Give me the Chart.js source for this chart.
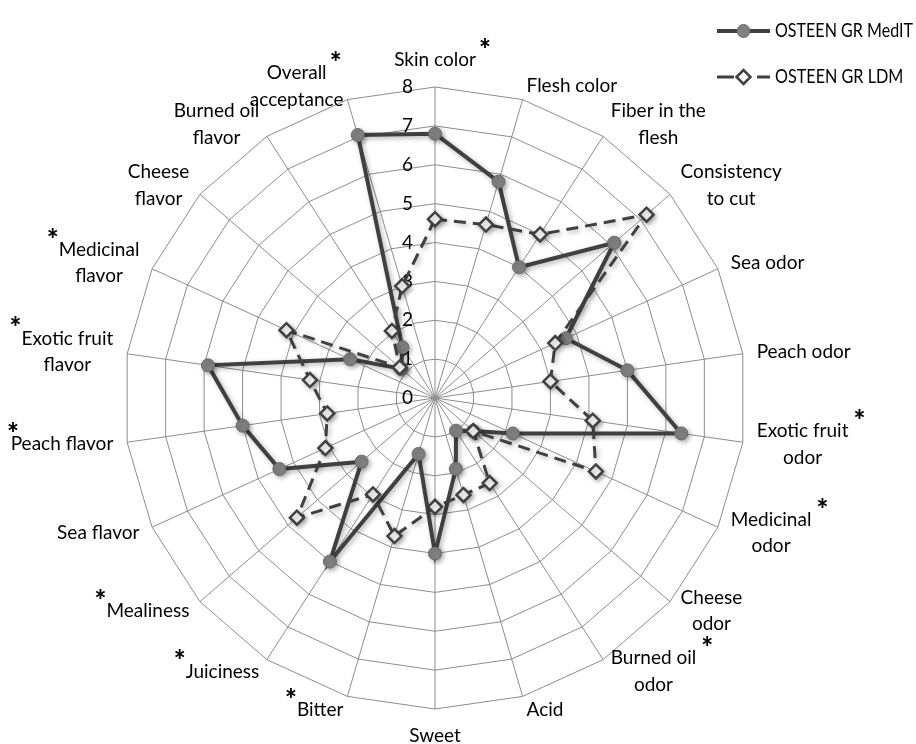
<!DOCTYPE html>
<html>
<head>
<meta charset="utf-8">
<script src="https://cdn.jsdelivr.net/npm/chart.js@4/dist/chart.umd.min.js"></script>
<style>
  html, body { margin: 0; padding: 0; background: #ffffff; }
  canvas { display: block; }
</style>
</head>
<body>
<canvas id="chart" width="916" height="744"></canvas>
<script>
// Sensory attributes (multi-line labels as arrays)
const categories = [
  ['Skin color'], ['Flesh color'], ['Fiber in the', 'flesh'], ['Consistency', 'to cut'],
  ['Sea odor'], ['Peach odor'], ['Exotic fruit', 'odor'], ['Medicinal', 'odor'],
  ['Cheese', 'odor'], ['Burned oil', 'odor'], ['Acid'], ['Sweet'], ['Bitter'],
  ['Juiciness'], ['Mealiness'], ['Sea flavor'], ['Peach flavor'],
  ['Exotic fruit', 'flavor'], ['Medicinal', 'flavor'], ['Cheese', 'flavor'],
  ['Burned oil', 'flavor'], ['Overall', 'acceptance']
];

// Attributes with a significant difference between the two samples (*)
const significant = [
  true, false, false, false, false, false, true, true, false, true, false,
  false, true, true, true, false, true, true, true, false, false, true
];

const seriesNames = ['OSTEEN GR MedIT', 'OSTEEN GR LDM'];

const medITValues = [
  6.8, 5.8, 4.0, 6.1, 3.7, 5.0, 6.4, 2.2, 1.3, 1.0, 1.9,
  4.0, 1.5, 5.0, 2.5, 4.4, 5.0, 5.9, 2.4, 1.15, 1.55, 7.05
];

const ldmValues = [
  4.6, 4.65, 5.0, 7.2, 3.4, 3.0, 4.1, 4.55, 1.3, 2.6, 2.6,
  2.8, 3.7, 2.95, 4.7, 3.1, 2.8, 3.25, 4.2, 1.2, 2.05, 3.0
];

const tickValues = [0, 1, 2, 3, 4, 5, 6, 7, 8];

const FONT_FAMILY = 'Lato, "Open Sans", "DejaVu Sans", sans-serif';
const TEXT_SIZE = 19;
const LINE_HEIGHT = 26.5;
const INK = '#404040';
const GRID = '#8c8c8c';

// Extra drawing: tick numbers, attribute labels, asterisks, legend, marker shadows
const decor = {
  id: 'decor',
  beforeDatasetsDraw(chart) {
    const ctx = chart.ctx;
    const r = chart.scales.r;
    ctx.save();
    ctx.font = `${TEXT_SIZE}px ${FONT_FAMILY}`;
    ctx.fillStyle = '#000';
    ctx.textAlign = 'center';
    ctx.textBaseline = 'middle';
    tickValues.forEach(v => {
      const d = r.getDistanceFromCenterForValue(v);
      ctx.fillText(String(v), r.xCenter - 27.5, r.yCenter - d);
    });
    ctx.restore();
  },
  beforeDatasetDraw(chart) {
    const ctx = chart.ctx;
    ctx.save();
    ctx.shadowColor = 'rgba(0,0,0,0.30)';
    ctx.shadowBlur = 5;
    ctx.shadowOffsetX = 2;
    ctx.shadowOffsetY = 2;
  },
  afterDatasetDraw(chart) {
    chart.ctx.restore();
  },
  afterDraw(chart) {
    const ctx = chart.ctx;
    const r = chart.scales.r;
    const area = r.drawingArea;
    ctx.save();
    ctx.fillStyle = '#000';
    ctx.textAlign = 'center';
    ctx.textBaseline = 'middle';

    categories.forEach((lines, i) => {
      ctx.font = `${TEXT_SIZE}px ${FONT_FAMILY}`;
      const a = r.getIndexAngle(i);
      const s = Math.sin(a), c = Math.cos(a);
      const p = r.getPointPosition(i, area + 14);
      const widths = lines.map(t => ctx.measureText(t).width);
      const w = Math.max(...widths);
      const h = lines.length * LINE_HEIGHT;
      let cx, cy;
      if (Math.abs(s) < 0.05) {
        cx = p.x;
        cy = c > 0 ? p.y - h / 2 : p.y + h / 2;
      } else if (s > 0) {
        cx = p.x + w / 2; cy = p.y;
      } else {
        cx = p.x - w / 2; cy = p.y;
      }
      lines.forEach((t, k) => {
        ctx.fillText(t, cx, cy - h / 2 + LINE_HEIGHT * (k + 0.5));
      });

      if (significant[i]) {
        const y1 = cy - h / 2 + LINE_HEIGHT / 2;
        let ax;
        if (s > 0.05) ax = cx + widths[0] / 2 + 11;
        else if (c > 0.9) ax = cx + widths[0] / 2 + 9;
        else ax = Math.max(13, cx - widths[0] / 2 - 6);
        ctx.font = `900 28px ${FONT_FAMILY}`;
        const m = ctx.measureText('*');
        const off = (m.actualBoundingBoxAscent - m.actualBoundingBoxDescent) / 2;
        ctx.textBaseline = 'alphabetic';
        ctx.fillText('*', ax, y1 - 8 + off);
        ctx.textBaseline = 'middle';
      }
    });

    // Legend
    const lx0 = 717, lx1 = 770, tx = 775, textWidth = 138;
    const rows = [31, 77];
    ctx.font = `${TEXT_SIZE}px ${FONT_FAMILY}`;
    ctx.textAlign = 'left';
    chart.data.datasets.forEach((ds, k) => {
      const y = rows[k];
      const mx = (lx0 + lx1) / 2;
      ctx.save();
      ctx.strokeStyle = ds.borderColor;
      ctx.lineWidth = ds.borderWidth;
      ctx.setLineDash(ds.borderDash ? [17, 23] : []);
      ctx.beginPath();
      ctx.moveTo(lx0, y);
      ctx.lineTo(lx1, y);
      ctx.stroke();
      ctx.restore();
      ctx.save();
      ctx.fillStyle = ds.pointBackgroundColor;
      ctx.strokeStyle = ds.pointBorderColor;
      ctx.lineWidth = ds.pointBorderWidth;
      ctx.beginPath();
      if (ds.pointStyle === 'circle') {
        ctx.arc(mx, y, ds.pointRadius, 0, Math.PI * 2);
      } else {
        const q = ds.pointRadius;
        ctx.moveTo(mx - q, y); ctx.lineTo(mx, y - q);
        ctx.lineTo(mx + q, y); ctx.lineTo(mx, y + q); ctx.closePath();
      }
      ctx.fill();
      ctx.stroke();
      ctx.restore();
      ctx.fillStyle = '#000';
      const full = ctx.measureText(ds.label).width;
      const wMax = ds.label.length > 13 ? textWidth : textWidth * 0.93;
      ctx.fillText(ds.label, tx, y, Math.min(full, wMax));
    });
    ctx.restore();
  }
};

new Chart(document.getElementById('chart').getContext('2d'), {
  type: 'radar',
  data: {
    labels: categories,
    datasets: [
      {
        label: seriesNames[0],
        data: medITValues,
        borderColor: INK,
        borderWidth: 4,
        fill: false,
        backgroundColor: 'rgba(0,0,0,0)',
        pointStyle: 'circle',
        pointRadius: 6.5,
        pointBackgroundColor: '#808080',
        pointBorderColor: '#6a6a6a',
        pointBorderWidth: 1,
        order: 1
      },
      {
        label: seriesNames[1],
        data: ldmValues,
        borderColor: INK,
        borderWidth: 3,
        borderDash: [12, 7],
        fill: false,
        backgroundColor: 'rgba(0,0,0,0)',
        pointStyle: 'rectRot',
        pointRadius: 7,
        pointBackgroundColor: '#ffffff',
        pointBorderColor: INK,
        pointBorderWidth: 2.5,
        order: 0
      }
    ]
  },
  options: {
    responsive: false,
    animation: false,
    events: [],
    layout: { padding: 0 },
    plugins: { legend: { display: false }, tooltip: { enabled: false } },
    scales: {
      r: {
        min: 0,
        max: 8,
        ticks: { stepSize: 1, display: false },
        pointLabels: { display: false },
        grid: { color: GRID, lineWidth: 1 },
        angleLines: { color: GRID, lineWidth: 1 },
        afterFit(scale) {
          scale.xCenter = 435;
          scale.yCenter = 398;
          scale.drawingArea = 311;
        }
      }
    }
  },
  plugins: [decor]
});
</script>
</body>
</html>
